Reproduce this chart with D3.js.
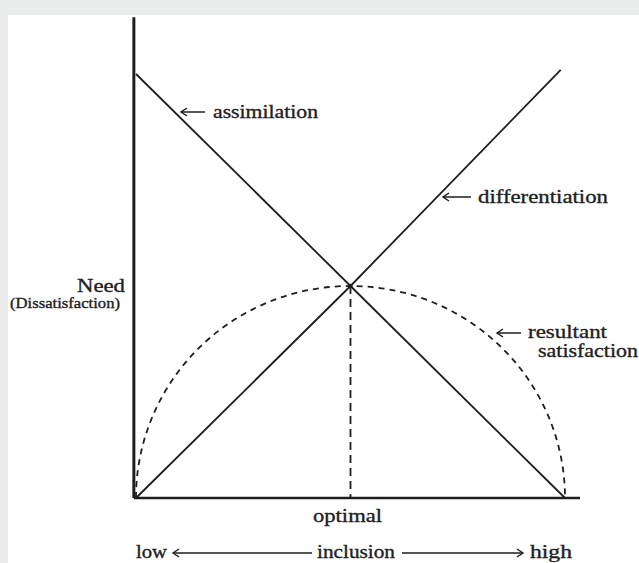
<!DOCTYPE html>
<html><head><meta charset="utf-8">
<script src="https://cdn.jsdelivr.net/npm/d3@7"></script>
<style>
html,body{margin:0;padding:0;background:#ebecec;}
svg{display:block;}
text{font-family:"Liberation Serif","Times New Roman",serif;fill:#222;}
</style></head>
<body>
<svg id="c" width="639" height="563"></svg>
<script>
// ---- data ----
const inclusionPts = [0, 0.5, 1];          // low, optimal, high
const assimilation = [1, 0.5, 0];          // need for assimilation
const diffX = [0, 0.5, 0.99];
const differentiation = [0, 0.5, 1.01];    // need for differentiation
const satisfactionX = [0, 0.5, 1];
const satisfaction = [0, 0.5, 0];          // resultant satisfaction (semicircle)
const optimalX = 0.5;
const axisLabels = ["low", "inclusion", "high"];
const yLabel = ["Need", "(Dissatisfaction)"];
const curveLabels = ["assimilation", "differentiation", "resultant", "satisfaction"];

const svg = d3.select("#c");
svg.append("rect").attr("x",8).attr("y",15).attr("width",631).attr("height",548).attr("fill","#fff");

const x = d3.scaleLinear().domain([0,1]).range([136,565]);
const y = d3.scaleLinear().domain([0,1]).range([498,74]);
const ink = "#1e1e1e";

// axes
svg.append("line").attr("x1",x(-0.005)).attr("x2",x(-0.005)).attr("y1",y(1.134)).attr("y2",y(0))
  .attr("stroke",ink).attr("stroke-width",3);
svg.append("line").attr("x1",x(-0.005)).attr("x2",x(1.035)).attr("y1",y(0)).attr("y2",y(0))
  .attr("stroke",ink).attr("stroke-width",2.4);

const line = d3.line().x(d=>x(d[0])).y(d=>y(d[1]));
// assimilation
svg.append("path").attr("d", line(inclusionPts.map((v,i)=>[v,assimilation[i]])))
  .attr("fill","none").attr("stroke",ink).attr("stroke-width",1.8);
// differentiation
svg.append("path").attr("d", line(diffX.map((v,i)=>[v,differentiation[i]])))
  .attr("fill","none").attr("stroke",ink).attr("stroke-width",1.8);
// satisfaction semicircle (elliptical arc through the three points)
const rx = (x(satisfactionX[2]) - x(satisfactionX[0]))/2;
const ry = y(satisfaction[0]) - y(satisfaction[1]);
svg.append("path")
  .attr("d", `M${x(satisfactionX[0])},${y(satisfaction[0])} A${rx},${ry} 0 0 1 ${x(satisfactionX[2])},${y(satisfaction[2])}`)
  .attr("fill","none").attr("stroke",ink).attr("stroke-width",1.8).attr("stroke-dasharray","6,5");
// optimal vertical dashed
svg.append("line").attr("x1",x(optimalX)).attr("x2",x(optimalX)).attr("y1",y(0.5)).attr("y2",y(0))
  .attr("stroke",ink).attr("stroke-width",1.8).attr("stroke-dasharray","8,5");
svg.append("circle").attr("cx",x(optimalX)).attr("cy",y(0.5)).attr("r",2.2).attr("fill",ink);

// arrows helper
function arrow(x1,x2,yy,w){
  svg.append("line").attr("x1",x1).attr("x2",x2).attr("y1",yy).attr("y2",yy).attr("stroke",ink).attr("stroke-width",w||1.5);
  const dir = x2 < x1 ? 1 : -1;
  svg.append("path").attr("d",`M${x2+dir*6},${yy-4} L${x2},${yy} L${x2+dir*6},${yy+4}`)
    .attr("fill","none").attr("stroke",ink).attr("stroke-width",w||1.5);
}
function label(t,xx,yy,size,width,anchor){
  const e = svg.append("text").attr("x",xx).attr("y",yy).attr("font-size",size).text(t)
    .style("stroke",ink).style("stroke-width",0.35);
  if(width) e.attr("textLength",width).attr("lengthAdjust","spacingAndGlyphs");
  if(anchor) e.attr("text-anchor",anchor);
  return e;
}

// curve labels
arrow(205,181,112);
label(curveLabels[0],213,118,19,105);
arrow(471,443,197);
label(curveLabels[1],478,203,19,130);
arrow(521,497,333);
label(curveLabels[2],528,338,19,79);
label(curveLabels[3],538,357,19,100);

// y label
label(yLabel[0],77,292,19,48);
label(yLabel[1],10,308,14,110);

// x labels
label("optimal",313,522,19,69);
label(axisLabels[0],136,558,19,31);
arrow(312,173,553,1.4);
label(axisLabels[1],317,558,19,78);
arrow(402,523,553,1.4);
label(axisLabels[2],530,558,19,42);
</script>
</body></html>
